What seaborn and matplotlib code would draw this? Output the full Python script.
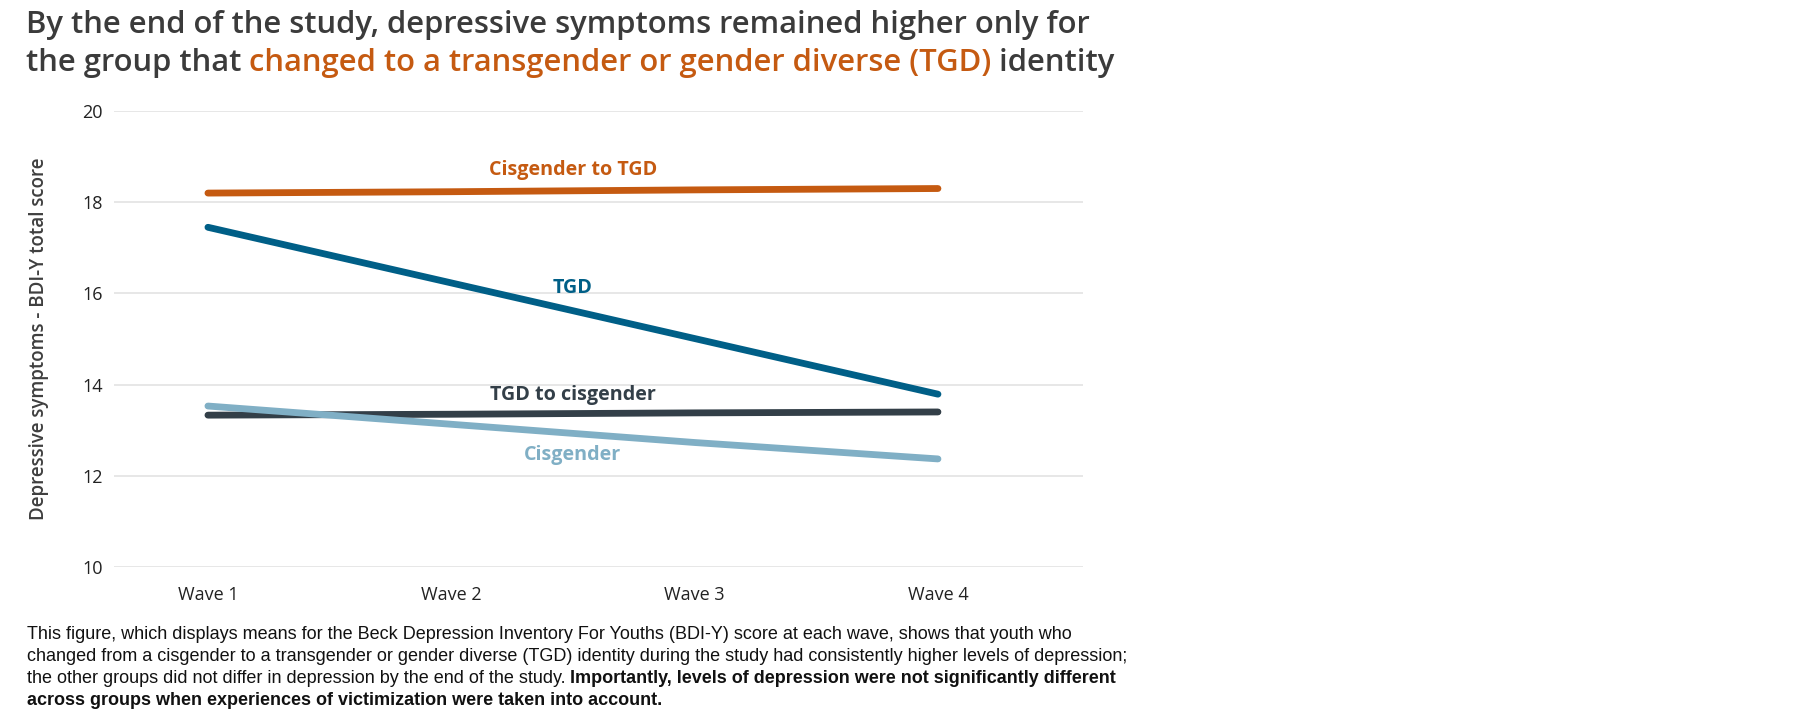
import numpy as np
import pandas as pd
import matplotlib
matplotlib.use("Agg")
import matplotlib.pyplot as plt
import seaborn as sns

# data
waves = ["Wave 1", "Wave 2", "Wave 3", "Wave 4"]
cis_to_tgd = [18.20, 18.23, 18.27, 18.30]
tgd = [17.45, 16.23, 15.01, 13.79]
tgd_to_cis = [13.33, 13.35, 13.38, 13.40]
cisgender = [13.53, 13.13, 12.73, 12.37]
groups = ["Cisgender to TGD", "TGD", "TGD to cisgender", "Cisgender"]
yticks = [10, 12, 14, 16, 18, 20]

colors = {"Cisgender to TGD": "#C55A11", "TGD": "#005F87",
          "TGD to cisgender": "#333F48", "Cisgender": "#80AFC5"}
label_y = {"Cisgender to TGD": 18.7, "TGD": 16.11,
           "TGD to cisgender": 13.78, "Cisgender": 12.45}

rows = []
for g, vals in zip(groups, [cis_to_tgd, tgd, tgd_to_cis, cisgender]):
    for i, v in enumerate(vals):
        rows.append({"wave": i, "score": v, "group": g})
df = pd.DataFrame(rows)

sns.set_theme(style="white")
plt.rcParams["font.family"] = ["Open Sans", "DejaVu Sans"]

W, H = 1800, 720
fig = plt.figure(figsize=(18, 7.2), dpi=100)
ax = fig.add_axes([114 / W, 1 - 567 / H, 969 / W, 456 / H])

for y in yticks:
    ax.axhline(y, color="#e3e3e3", lw=1.2, zorder=0)

sns.lineplot(data=df, x="wave", y="score", hue="group", palette=colors,
             hue_order=groups, linewidth=4.9, legend=False, ax=ax,
             solid_capstyle="round")

for g in groups:
    ax.text(1.5, label_y[g], g, color=colors[g], fontsize=14.2,
            fontweight="bold", ha="center", va="center")

ax.set_xlim(-0.386, 3.596)
ax.set_ylim(10, 20)
ax.set_xticks(range(len(waves)))
ax.set_xticklabels(waves)
ax.set_yticks(yticks)
ax.tick_params(axis="both", length=0, labelsize=13, labelcolor="#222222")
ax.tick_params(axis="y", pad=8)
ax.tick_params(axis="x", pad=14)
ax.set_xlabel("")
ax.set_ylabel("Depressive symptoms - BDI-Y total score", fontsize=13.5,
              fontweight="semibold", color="#3f3f3f", labelpad=24)
for s in ax.spines.values():
    s.set_visible(False)

renderer = fig.canvas.get_renderer()


def text_width(s, **kw):
    t = fig.text(0, 0, "x" + s + "x", **kw)
    w1 = t.get_window_extent(renderer=renderer).width
    t.remove()
    t = fig.text(0, 0, "xx", **kw)
    w2 = t.get_window_extent(renderer=renderer).width
    t.remove()
    return w1 - w2


def put_runs(x_px, y_px, runs, **kw):
    x = x_px
    for s, color, weight in runs:
        fig.text(x / W, 1 - y_px / H, s, color=color, fontweight=weight,
                 va="baseline", ha="left", **kw)
        x += text_width(s, fontweight=weight, **kw)


gray = "#3b3b3b"
orange = "#C55A11"
tkw = dict(fontsize=22.3)
put_runs(26, 33, [("By the end of the study, depressive symptoms remained higher only for",
                   gray, "semibold")], **tkw)
put_runs(26, 71, [("the group that ", gray, "semibold"),
                  ("changed to a transgender or gender diverse (TGD)", orange, "semibold"),
                  (" identity", gray, "semibold")], **tkw)

ckw = dict(fontsize=13.0, family=["Liberation Sans", "DejaVu Sans"])
black = "#111111"
put_runs(27, 639, [("This figure, which displays means for the Beck Depression Inventory For "
                    "Youths (BDI-Y) score at each wave, shows that youth who", black, "normal")], **ckw)
put_runs(27, 661, [("changed from a cisgender to a transgender or gender diverse (TGD) identity "
                    "during the study had consistently higher levels of depression;", black, "normal")], **ckw)
put_runs(27, 683, [("the other groups did not differ in depression by the end of the study. ",
                    black, "normal"),
                   ("Importantly, levels of depression were not significantly different",
                    black, "bold")], **ckw)
put_runs(27, 705, [("across groups when experiences of victimization were taken into account.",
                    black, "bold")], **ckw)

fig.savefig("out.png", dpi=100, facecolor="white")
